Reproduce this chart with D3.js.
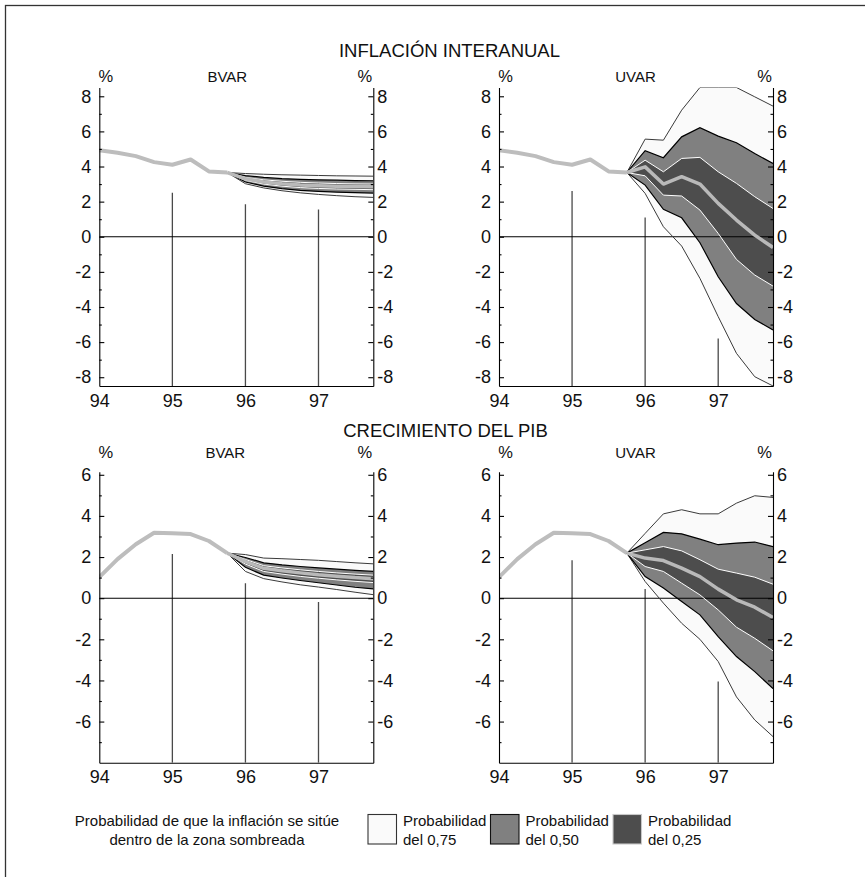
<!DOCTYPE html>
<html>
<head>
<meta charset="utf-8">
<script src="https://cdn.jsdelivr.net/npm/d3@7"></script>
<style>
  body { margin: 0; background: #fff; }
  svg text { font-family: "Liberation Sans", Arial, Helvetica, sans-serif; fill: #111; }
</style>
</head>
<body>
<svg id="chart" width="865" height="877"></svg>
<script>
// ---- Data --------------------------------------------------------------
const histQuarters = [94.0, 94.25, 94.5, 94.75, 95.0, 95.25, 95.5, 95.75];
const fcQuarters   = [95.75, 96.0, 96.25, 96.5, 96.75, 97.0, 97.25, 97.5, 97.75];
const yearTicks    = [94, 95, 96, 97];
const gridYears    = [95, 96, 97];

const inflMajor = [-8, -6, -4, -2, 0, 2, 4, 6, 8];
const inflMinor = [-7, -5, -3, -1, 1, 3, 5, 7];
const gdpMajor  = [-6, -4, -2, 0, 2, 4, 6];
const gdpMinor  = [-7, -5, -3, -1, 1, 3, 5];

// observed series
const inflHist = [4.93, 4.78, 4.59, 4.25, 4.10, 4.40, 3.72, 3.66];
const gdpHist  = [1.02, 1.90, 2.62, 3.18, 3.16, 3.12, 2.78, 2.19];

// inflation, BVAR fan (bounds of the 0.75 / 0.50 / 0.25 bands and central path)
const inflBvarHi75 = [3.66, 3.60, 3.56, 3.53, 3.51, 3.49, 3.47, 3.46, 3.45];
const inflBvarHi50 = [3.66, 3.48, 3.38, 3.31, 3.27, 3.24, 3.22, 3.20, 3.19];
const inflBvarHi25 = [3.66, 3.38, 3.24, 3.16, 3.10, 3.06, 3.03, 3.01, 3.00];
const inflBvarMid  = [3.66, 3.30, 3.12, 3.02, 2.95, 2.91, 2.88, 2.86, 2.85];
const inflBvarLo25 = [3.66, 3.21, 3.00, 2.88, 2.80, 2.75, 2.72, 2.70, 2.68];
const inflBvarLo50 = [3.66, 3.12, 2.88, 2.74, 2.64, 2.58, 2.54, 2.51, 2.49];
const inflBvarLo75 = [3.66, 3.02, 2.78, 2.62, 2.50, 2.41, 2.34, 2.28, 2.24];

// inflation, UVAR fan
const inflUvarHi75 = [3.66, 5.56, 5.50, 7.21, 8.50, 8.50, 8.50, 7.97, 7.44];
const inflUvarHi50 = [3.66, 4.90, 4.50, 5.69, 6.21, 5.73, 5.35, 4.74, 4.17];
const inflUvarHi25 = [3.66, 4.36, 3.70, 4.46, 4.52, 3.70, 3.04, 2.28, 1.61];
const inflUvarMid  = [3.66, 3.98, 3.00, 3.42, 3.00, 1.90, 0.95, 0.09, -0.61];
const inflUvarLo25 = [3.66, 3.47, 2.37, 2.32, 1.52, 0.19, -1.29, -2.18, -2.81];
const inflUvarLo50 = [3.66, 2.94, 1.56, 1.08, -0.34, -2.28, -3.80, -4.71, -5.31];
const inflUvarLo75 = [3.66, 2.47, 0.57, -0.53, -2.37, -4.55, -6.64, -7.97, -8.50];

// GDP growth, BVAR fan
const gdpBvarHi75 = [2.19, 2.12, 1.95, 1.92, 1.88, 1.84, 1.78, 1.72, 1.67];
const gdpBvarHi50 = [2.19, 1.98, 1.72, 1.62, 1.54, 1.47, 1.41, 1.35, 1.30];
const gdpBvarHi25 = [2.19, 1.88, 1.58, 1.47, 1.38, 1.30, 1.23, 1.17, 1.12];
const gdpBvarMid  = [2.19, 1.78, 1.45, 1.33, 1.23, 1.14, 1.07, 1.00, 0.95];
const gdpBvarLo25 = [2.19, 1.66, 1.30, 1.17, 1.06, 0.97, 0.89, 0.82, 0.76];
const gdpBvarLo50 = [2.19, 1.50, 1.12, 0.98, 0.86, 0.75, 0.64, 0.53, 0.45];
const gdpBvarLo75 = [2.19, 1.30, 0.95, 0.79, 0.65, 0.54, 0.42, 0.29, 0.17];

// GDP growth, UVAR fan
const gdpUvarHi75 = [2.19, 3.15, 4.10, 4.30, 4.10, 4.10, 4.62, 4.98, 4.90];
const gdpUvarHi50 = [2.19, 2.70, 3.20, 3.13, 2.87, 2.60, 2.68, 2.73, 2.51];
const gdpUvarHi25 = [2.19, 2.35, 2.51, 2.30, 1.87, 1.41, 1.22, 1.02, 0.68];
const gdpUvarMid  = [2.19, 1.95, 1.83, 1.46, 1.05, 0.44, -0.08, -0.44, -0.94];
const gdpUvarLo25 = [2.19, 1.54, 1.30, 0.73, 0.16, -0.57, -1.41, -1.95, -2.56];
const gdpUvarLo50 = [2.19, 1.05, 0.49, -0.16, -0.81, -1.87, -2.84, -3.57, -4.40];
const gdpUvarLo75 = [2.19, 0.81, -0.24, -1.22, -2.00, -3.08, -4.80, -5.92, -6.73];

// upper ends of the year guide lines (they rise from the bottom axis)
const inflBvarGridTop = [2.50, 1.85, 1.55];
const inflUvarGridTop = [2.60, 1.10, -5.80];
const gdpBvarGridTop  = [2.15, 0.72, -0.18];
const gdpUvarGridTop  = [1.85, 0.45, -4.05];

const titles      = ["INFLACIÓN INTERANUAL", "CRECIMIENTO DEL PIB"];
const legendNote  = ["Probabilidad de que la inflación se sitúe", "dentro de la zona sombreada"];
const legendKeys  = ["del 0,75", "del 0,50", "del 0,25"];

// ---- Layout / style -----------------------------------------------------
const svg = d3.select("#chart");
const col = { left: [99.3, 373.3], right: [499, 773] };
const row = {
  top:    { range: [386, 87.5], domain: [-8.5, 8.5], major: inflMajor, minor: inflMinor, labelY: 81.7 },
  bottom: { range: [762.7, 471.7], domain: [-8, 6.15], major: gdpMajor, minor: gdpMinor, labelY: 458.3 }
};
const bandFill = { b75: "#fafafa", b50: "#808080", b25: "#4d4d4d" };

// page frame
svg.append("rect").attr("x", 5.5).attr("y", 5.5).attr("width", 900).attr("height", 900)
  .attr("fill", "none").attr("stroke", "#333").attr("stroke-width", 1.3);

// block titles
svg.append("text").attr("x", 449.5).attr("y", 56.7).attr("text-anchor", "middle")
  .attr("font-size", 18.5).text(titles[0]);
svg.append("text").attr("x", 445.5).attr("y", 436.7).attr("text-anchor", "middle")
  .attr("font-size", 18.5).text(titles[1]);

function fanRows(arrs) {
  return fcQuarters.map((q, i) => ({
    q, hi75: arrs[0][i], hi50: arrs[1][i], hi25: arrs[2][i], mid: arrs[3][i],
    lo25: arrs[4][i], lo50: arrs[5][i], lo75: arrs[6][i]
  }));
}

const panels = [
  { id: "p1", col: "left",  row: "top",    model: "BVAR", modelDx: 128,   hist: inflHist, grid: inflBvarGridTop,
    fan: fanRows([inflBvarHi75, inflBvarHi50, inflBvarHi25, inflBvarMid, inflBvarLo25, inflBvarLo50, inflBvarLo75]) },
  { id: "p2", col: "right", row: "top",    model: "UVAR", modelDx: 136.5, hist: inflHist, grid: inflUvarGridTop,
    fan: fanRows([inflUvarHi75, inflUvarHi50, inflUvarHi25, inflUvarMid, inflUvarLo25, inflUvarLo50, inflUvarLo75]) },
  { id: "p3", col: "left",  row: "bottom", model: "BVAR", modelDx: 126,   hist: gdpHist,  grid: gdpBvarGridTop,
    fan: fanRows([gdpBvarHi75, gdpBvarHi50, gdpBvarHi25, gdpBvarMid, gdpBvarLo25, gdpBvarLo50, gdpBvarLo75]) },
  { id: "p4", col: "right", row: "bottom", model: "UVAR", modelDx: 136.5, hist: gdpHist,  grid: gdpUvarGridTop,
    fan: fanRows([gdpUvarHi75, gdpUvarHi50, gdpUvarHi25, gdpUvarMid, gdpUvarLo25, gdpUvarLo50, gdpUvarLo75]) }
];

panels.forEach(p => {
  const [x0, x1] = col[p.col];
  const r = row[p.row];
  const x = d3.scaleLinear().domain([94, 97.75]).range([x0, x1]);
  const y = d3.scaleLinear().domain(r.domain).range(r.range);
  const g = svg.append("g");

  svg.append("clipPath").attr("id", "clip-" + p.id).append("rect")
    .attr("x", x0).attr("y", r.range[1]).attr("width", x1 - x0).attr("height", r.range[0] - r.range[1]);
  const plot = g.append("g").attr("clip-path", `url(#clip-${p.id})`);

  // year guide lines
  plot.selectAll(".guide").data(gridYears).join("line")
    .attr("x1", d => x(d)).attr("x2", d => x(d))
    .attr("y1", y(r.domain[0])).attr("y2", (d, i) => y(p.grid[i]))
    .attr("stroke", "#4a4a4a").attr("stroke-width", 1.3);

  // probability bands
  const band = (lo, hi) => d3.area().x(d => x(d.q)).y0(d => y(d[lo])).y1(d => y(d[hi]));
  const line = key => d3.line().x(d => x(d.q)).y(d => y(d[key]));
  plot.append("path").datum(p.fan).attr("d", band("lo75", "hi75")).attr("fill", bandFill.b75);
  plot.append("path").datum(p.fan).attr("d", band("lo50", "hi50")).attr("fill", bandFill.b50);
  plot.append("path").datum(p.fan).attr("d", band("lo25", "hi25")).attr("fill", bandFill.b25);

  // zero line
  plot.append("line").attr("x1", x0).attr("x2", x1).attr("y1", y(0)).attr("y2", y(0))
    .attr("stroke", "#000").attr("stroke-width", 1.1);

  [["hi75", "#3a3a3a", 1], ["lo75", "#3a3a3a", 1], ["hi50", "#000", 1.2], ["lo50", "#000", 1.2],
   ["hi25", "#fff", 1], ["lo25", "#fff", 1]].forEach(([k, c, w]) => {
    plot.append("path").datum(p.fan).attr("d", line(k))
      .attr("fill", "none").attr("stroke", c).attr("stroke-width", w);
  });
  plot.append("path").datum(p.fan).attr("d", line("mid"))
    .attr("fill", "none").attr("stroke", "#b9b9b9").attr("stroke-width", 3.5).attr("stroke-linejoin", "round");

  // observed path
  const histRows = histQuarters.map((q, i) => ({ q, v: p.hist[i] }));
  plot.append("path").datum(histRows)
    .attr("d", d3.line().x(d => x(d.q)).y(d => y(d.v)))
    .attr("fill", "none").attr("stroke", "#bdbdbd").attr("stroke-width", 4).attr("stroke-linejoin", "round");

  // axes
  const styleAxis = sel => {
    sel.selectAll("path, line").attr("stroke", "#000").attr("stroke-width", 1.1);
    sel.selectAll("text").attr("font-size", 18).attr("fill", "#111")
      .attr("font-family", "'Liberation Sans', Arial, sans-serif");
  };
  const fmt = d => d < 0 ? "-" + Math.abs(d) : String(d);

  g.append("g").attr("transform", `translate(${x0},0)`)
    .call(d3.axisLeft(y).tickValues(r.major).tickFormat(fmt).tickSizeInner(-5).tickSizeOuter(0).tickPadding(8))
    .call(styleAxis);
  g.append("g").attr("transform", `translate(${x0},0)`)
    .call(d3.axisLeft(y).tickValues(r.minor).tickFormat("").tickSizeInner(-2.5).tickSizeOuter(0))
    .call(styleAxis).call(s => s.select(".domain").remove());

  g.append("g").attr("transform", `translate(${x1},0)`)
    .call(d3.axisRight(y).tickValues(r.major).tickFormat(fmt).tickSizeInner(-5).tickSizeOuter(0).tickPadding(4))
    .call(styleAxis);
  g.append("g").attr("transform", `translate(${x1},0)`)
    .call(d3.axisRight(y).tickValues(r.minor).tickFormat("").tickSizeInner(-2.5).tickSizeOuter(0))
    .call(styleAxis).call(s => s.select(".domain").remove());

  g.append("g").attr("transform", `translate(0,${r.range[0]})`)
    .call(d3.axisBottom(x).tickValues(yearTicks).tickFormat(d => String(d)).tickSize(0).tickPadding(8))
    .call(styleAxis);

  // panel captions
  g.append("text").attr("x", x0 + 6.5).attr("y", r.labelY).attr("text-anchor", "middle")
    .attr("font-size", 16.5).text("%");
  g.append("text").attr("x", x1 - 8.5).attr("y", r.labelY).attr("text-anchor", "middle")
    .attr("font-size", 16.5).text("%");
  g.append("text").attr("x", x0 + p.modelDx).attr("y", r.labelY).attr("text-anchor", "middle")
    .attr("font-size", 15).text(p.model);
});

// ---- Legend -------------------------------------------------------------
const legend = svg.append("g");
legend.selectAll(".note").data(legendNote).join("text")
  .attr("x", 207).attr("y", (d, i) => 825.5 + i * 19).attr("text-anchor", "middle")
  .attr("font-size", 15).text(d => d);

const keyX = [368, 490.5, 613];
const keyFill = [bandFill.b75, bandFill.b50, bandFill.b25];
const keyStroke = ["#333", "#111", "#c8c8c8"];
legendKeys.forEach((k, i) => {
  legend.append("rect").attr("x", keyX[i]).attr("y", 814.5).attr("width", 28.5).attr("height", 29.5)
    .attr("fill", keyFill[i]).attr("stroke", keyStroke[i]).attr("stroke-width", 1.1);
  legend.append("text").attr("x", keyX[i] + 35).attr("y", 826).attr("font-size", 15).text("Probabilidad");
  legend.append("text").attr("x", keyX[i] + 35).attr("y", 845).attr("font-size", 15).text(k);
});
</script>
</body>
</html>
